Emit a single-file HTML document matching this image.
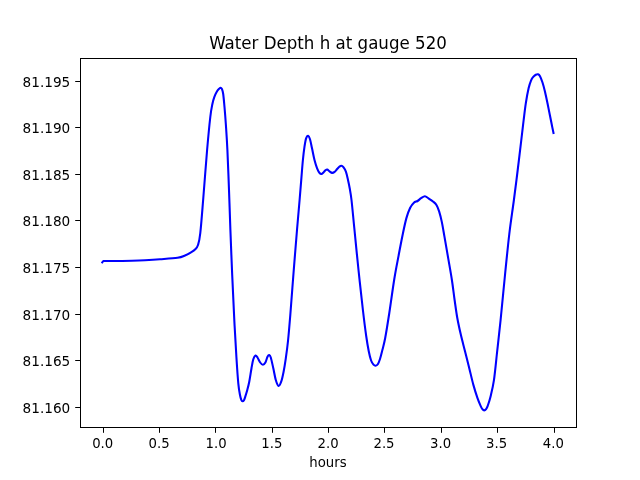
<!DOCTYPE html><html><head><meta charset="utf-8"><title>Water Depth h at gauge 520</title>
<style>html,body{margin:0;padding:0;background:#fff;overflow:hidden}svg{display:block}text{font-family:"DejaVu Sans","Liberation Sans",sans-serif;fill:#000}</style></head><body>
<svg width="640" height="480" viewBox="0 0 640 480">
<rect width="640" height="480" fill="#fff"/>
<path d="M102.3 262.4L103.30 261.00C104.75 261.00 108.88 261.01 112.00 261.00C115.12 260.99 118.67 260.99 122.00 260.95C125.33 260.91 128.17 260.88 132.00 260.75C135.83 260.62 140.33 260.45 145.00 260.20C149.67 259.95 154.58 259.66 160.00 259.25C165.42 258.84 173.33 258.38 177.50 257.75C181.67 257.12 182.75 256.41 185.00 255.50C187.25 254.59 189.33 253.30 191.00 252.30C192.67 251.30 193.83 250.72 195.00 249.50C196.17 248.28 197.12 247.75 198.00 245.00C198.88 242.25 199.42 240.83 200.30 233.00C201.18 225.17 202.17 211.83 203.30 198.00C204.43 184.17 205.93 163.50 207.10 150.00C208.27 136.50 209.42 124.67 210.30 117.00C211.18 109.33 211.73 107.30 212.40 104.00C213.07 100.70 213.55 99.27 214.30 97.20C215.05 95.13 216.08 93.02 216.90 91.60C217.72 90.18 218.57 89.35 219.20 88.70C219.83 88.05 220.23 87.62 220.70 87.70C221.17 87.78 221.58 88.15 222.00 89.20C222.42 90.25 222.78 91.03 223.20 94.00C223.62 96.97 224.05 101.83 224.50 107.00C224.95 112.17 225.42 117.83 225.90 125.00C226.38 132.17 226.88 139.17 227.40 150.00C227.92 160.83 228.50 176.67 229.00 190.00C229.50 203.33 229.87 215.83 230.40 230.00C230.93 244.17 231.57 260.33 232.20 275.00C232.83 289.67 233.50 304.33 234.20 318.00C234.90 331.67 235.72 346.12 236.40 357.00C237.08 367.88 237.70 376.97 238.30 383.30C238.90 389.63 239.50 392.25 240.00 395.00C240.50 397.75 240.88 398.75 241.30 399.80C241.72 400.85 242.05 401.23 242.50 401.30C242.95 401.37 243.55 400.93 244.00 400.20C244.45 399.47 244.67 398.55 245.20 396.90C245.73 395.25 246.53 392.78 247.20 390.30C247.87 387.82 248.48 385.68 249.20 382.00C249.92 378.32 250.82 372.00 251.50 368.20C252.18 364.40 252.63 361.32 253.30 359.20C253.97 357.08 254.80 355.78 255.50 355.50C256.20 355.22 256.72 356.33 257.50 357.50C258.28 358.67 259.30 361.28 260.20 362.50C261.10 363.72 262.03 364.80 262.90 364.80C263.77 364.80 264.63 363.85 265.40 362.50C266.17 361.15 266.87 357.95 267.50 356.70C268.13 355.45 268.65 354.87 269.20 355.00C269.75 355.13 270.12 355.28 270.80 357.50C271.48 359.72 272.47 364.55 273.30 368.30C274.13 372.05 274.93 377.07 275.80 380.00C276.67 382.93 277.60 385.62 278.50 385.90C279.40 386.18 280.35 384.07 281.20 381.70C282.05 379.33 282.83 375.60 283.60 371.70C284.37 367.80 285.07 363.42 285.80 358.30C286.53 353.18 287.25 348.22 288.00 341.00C288.75 333.78 289.37 326.50 290.30 315.00C291.23 303.50 292.48 286.17 293.60 272.00C294.72 257.83 296.00 242.00 297.00 230.00C298.00 218.00 298.87 208.67 299.60 200.00C300.33 191.33 300.85 184.67 301.40 178.00C301.95 171.33 302.38 165.22 302.90 160.00C303.42 154.78 303.97 150.32 304.50 146.70C305.03 143.08 305.50 140.12 306.10 138.30C306.70 136.48 307.45 135.65 308.10 135.80C308.75 135.95 309.35 137.12 310.00 139.20C310.65 141.28 311.25 144.83 312.00 148.30C312.75 151.77 313.65 156.67 314.50 160.00C315.35 163.33 316.25 166.13 317.10 168.30C317.95 170.47 318.83 172.07 319.60 173.00C320.37 173.93 321.02 174.03 321.70 173.90C322.38 173.77 323.05 172.82 323.70 172.20C324.35 171.58 325.02 170.63 325.60 170.20C326.18 169.77 326.55 169.42 327.20 169.60C327.85 169.78 328.68 170.75 329.50 171.30C330.32 171.85 331.25 172.80 332.10 172.90C332.95 173.00 333.80 172.50 334.60 171.90C335.40 171.30 336.12 170.15 336.90 169.30C337.68 168.45 338.57 167.40 339.30 166.80C340.03 166.20 340.62 165.63 341.30 165.70C341.98 165.77 342.63 166.20 343.40 167.20C344.17 168.20 345.13 169.57 345.90 171.70C346.67 173.83 347.37 177.23 348.00 180.00C348.63 182.77 349.12 184.97 349.70 188.30C350.28 191.63 350.73 193.38 351.50 200.00C352.27 206.62 353.13 216.33 354.30 228.00C355.47 239.67 357.07 256.33 358.50 270.00C359.93 283.67 361.62 299.00 362.90 310.00C364.18 321.00 365.22 329.12 366.20 336.00C367.18 342.88 367.93 347.17 368.75 351.25C369.57 355.33 370.31 358.27 371.10 360.50C371.89 362.73 372.75 363.73 373.50 364.60C374.25 365.47 374.88 365.75 375.60 365.70C376.32 365.65 377.07 365.42 377.80 364.30C378.53 363.18 379.25 361.33 380.00 359.00C380.75 356.67 381.43 353.80 382.30 350.30C383.17 346.80 384.03 344.22 385.20 338.00C386.37 331.78 387.78 322.83 389.30 313.00C390.82 303.17 392.75 288.57 394.30 279.00C395.85 269.43 397.22 262.93 398.60 255.60C399.98 248.27 401.30 241.25 402.60 235.00C403.90 228.75 405.13 222.63 406.40 218.10C407.67 213.57 408.95 210.37 410.20 207.80C411.45 205.23 412.68 203.83 413.90 202.70C415.12 201.57 416.30 201.75 417.50 201.00C418.70 200.25 419.87 198.98 421.10 198.20C422.33 197.42 423.67 196.27 424.90 196.30C426.13 196.33 427.15 197.53 428.50 198.40C429.85 199.27 431.65 200.37 433.00 201.50C434.35 202.63 435.57 203.52 436.60 205.20C437.63 206.88 438.33 208.82 439.20 211.60C440.07 214.38 440.92 217.68 441.80 221.90C442.68 226.12 443.40 230.65 444.50 236.90C445.60 243.15 447.17 252.22 448.40 259.40C449.63 266.58 450.87 273.23 451.90 280.00C452.93 286.77 453.70 293.67 454.60 300.00C455.50 306.33 456.27 312.23 457.30 318.00C458.33 323.77 459.52 329.06 460.80 334.60C462.08 340.14 463.60 345.70 465.00 351.25C466.40 356.80 467.82 362.34 469.20 367.90C470.58 373.46 471.92 379.57 473.30 384.60C474.68 389.63 476.28 394.55 477.50 398.10C478.72 401.65 479.78 404.05 480.60 405.90C481.42 407.75 481.80 408.45 482.40 409.20C483.00 409.95 483.58 410.40 484.20 410.40C484.82 410.40 485.52 409.95 486.10 409.20C486.68 408.45 486.97 407.98 487.70 405.90C488.43 403.82 489.47 400.95 490.50 396.70C491.53 392.45 492.80 387.85 493.90 380.40C495.00 372.95 495.98 362.07 497.10 352.00C498.22 341.93 499.28 332.83 500.60 320.00C501.92 307.17 503.55 289.33 505.00 275.00C506.45 260.67 507.82 246.50 509.30 234.00C510.78 221.50 512.50 210.67 513.90 200.00C515.30 189.33 516.47 180.00 517.70 170.00C518.93 160.00 520.32 148.25 521.30 140.00C522.28 131.75 522.85 126.62 523.60 120.50C524.35 114.38 524.97 108.67 525.80 103.30C526.63 97.93 527.72 92.13 528.60 88.30C529.48 84.47 530.28 82.25 531.10 80.30C531.92 78.35 532.72 77.53 533.50 76.60C534.28 75.67 535.05 75.08 535.80 74.70C536.55 74.32 537.30 74.05 538.00 74.30C538.70 74.55 539.25 74.83 540.00 76.20C540.75 77.57 541.67 79.92 542.50 82.50C543.33 85.08 544.17 88.23 545.00 91.70C545.83 95.17 546.67 99.28 547.50 103.30C548.33 107.32 549.25 112.05 550.00 115.80C550.75 119.55 551.42 122.93 552.00 125.80C552.58 128.67 553.25 131.80 553.50 133.00" fill="none" stroke="#0000ff" stroke-width="2.08" stroke-linejoin="round" stroke-linecap="square"/>
<g fill="#000">
<rect x="80" y="58" width="1" height="370"/>
<rect x="576" y="58" width="1" height="370"/>
<rect x="80" y="58" width="497" height="1"/>
<rect x="80" y="427" width="497" height="1"/>
<rect x="103" y="428" width="1" height="4.8"/>
<rect x="159" y="428" width="1" height="4.8"/>
<rect x="215" y="428" width="1" height="4.8"/>
<rect x="272" y="428" width="1" height="4.8"/>
<rect x="328" y="428" width="1" height="4.8"/>
<rect x="384" y="428" width="1" height="4.8"/>
<rect x="441" y="428" width="1" height="4.8"/>
<rect x="497" y="428" width="1" height="4.8"/>
<rect x="554" y="428" width="1" height="4.8"/>
<rect x="75.2" y="407" width="4.8" height="1"/>
<rect x="75.2" y="360" width="4.8" height="1"/>
<rect x="75.2" y="314" width="4.8" height="1"/>
<rect x="75.2" y="267" width="4.8" height="1"/>
<rect x="75.2" y="220" width="4.8" height="1"/>
<rect x="75.2" y="174" width="4.8" height="1"/>
<rect x="75.2" y="127" width="4.8" height="1"/>
<rect x="75.2" y="81" width="4.8" height="1"/>
</g>
<g font-size="13.889px" text-anchor="middle">
<text transform="translate(102.70,448) scale(0.955,1)" x="0" y="0">0.0</text>
<text transform="translate(159.06,448) scale(0.955,1)" x="0" y="0">0.5</text>
<text transform="translate(216.12,448) scale(0.955,1)" x="0" y="0">1.0</text>
<text transform="translate(271.78,448) scale(0.955,1)" x="0" y="0">1.5</text>
<text transform="translate(328.04,448) scale(0.955,1)" x="0" y="0">2.0</text>
<text transform="translate(384.00,448) scale(0.955,1)" x="0" y="0">2.5</text>
<text transform="translate(440.66,448) scale(0.955,1)" x="0" y="0">3.0</text>
<text transform="translate(496.62,448) scale(0.955,1)" x="0" y="0">3.5</text>
<text transform="translate(553.28,448) scale(0.955,1)" x="0" y="0">4.0</text>
<text transform="translate(328,466.8) scale(0.957,1)" x="0" y="0">hours</text>
</g>
<g font-size="13.889px" text-anchor="end">
<text transform="translate(70.3,412.50) scale(0.982,1)" x="0" y="0">81.160</text>
<text transform="translate(70.3,365.50) scale(0.982,1)" x="0" y="0">81.165</text>
<text transform="translate(70.3,319.50) scale(0.982,1)" x="0" y="0">81.170</text>
<text transform="translate(70.3,272.50) scale(0.982,1)" x="0" y="0">81.175</text>
<text transform="translate(70.3,225.50) scale(0.982,1)" x="0" y="0">81.180</text>
<text transform="translate(70.3,179.50) scale(0.982,1)" x="0" y="0">81.185</text>
<text transform="translate(70.3,132.50) scale(0.982,1)" x="0" y="0">81.190</text>
<text transform="translate(70.3,86.50) scale(0.982,1)" x="0" y="0">81.195</text>
</g>
<text transform="translate(328,48.8) scale(1,1.09)" x="0" y="0" font-size="16.667px" text-anchor="middle">Water Depth h at gauge 520</text>
</svg></body></html>
